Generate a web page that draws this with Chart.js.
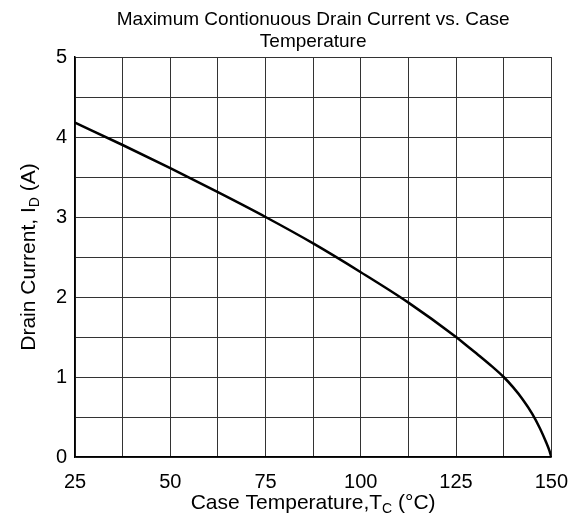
<!DOCTYPE html>
<html>
<head>
<meta charset="utf-8">
<script src="https://cdn.jsdelivr.net/npm/chart.js@4"></script>
<style>
  html, body { margin: 0; padding: 0; background: #fff; }
  #wrap { width: 581px; height: 518px; }
</style>
</head>
<body>
<div id="wrap"><canvas id="grafico"></canvas></div>
<script>
// temperatura do encapsulamento (°C) e corrente de dreno (A)
const temperatura = [25, 37.5, 50, 62.5, 75, 87.5, 100, 112.5, 125, 128, 131.25, 134.5, 137.5, 140, 142.5, 145, 147, 148.5, 149.5, 150];
const corrente = [4.18, 3.90, 3.61, 3.31, 3.00, 2.67, 2.31, 1.93, 1.50, 1.385, 1.26, 1.13, 1.00, 0.87, 0.72, 0.54, 0.36, 0.20, 0.08, 0];

const xTicks = [25, 50, 75, 100, 125, 150];
const yTicks = [0, 1, 2, 3, 4, 5];

const tituloLinhas = ['Maximum Contionuous Drain Current vs. Case', 'Temperature'];
const tituloX = [['Case Temperature,T', false], ['C', true], [' (°C)', false]];
const tituloY = [['Drain Current, I', false], ['D', true], [' (A)', false]];

const fonte = '"Liberation Sans", Arial, sans-serif';
const tamFonte = 19;
const tamEixo = 21;

// desenha texto com trechos em subscrito, centralizado em (0,0)
function textoComSub(ctx, partes, tam) {
  const fNormal = tam + 'px ' + fonte;
  const fSub = Math.round(tam * 0.68) + 'px ' + fonte;
  let total = 0;
  partes.forEach(p => {
    ctx.font = p[1] ? fSub : fNormal;
    total += ctx.measureText(p[0]).width;
  });
  let x = -total / 2;
  ctx.textAlign = 'left';
  ctx.textBaseline = 'alphabetic';
  partes.forEach(p => {
    ctx.font = p[1] ? fSub : fNormal;
    ctx.fillText(p[0], x, p[1] ? 4 : 0);
    x += ctx.measureText(p[0]).width;
  });
}

const textos = {
  id: 'textos',
  afterDraw(chart) {
    const { ctx, chartArea } = chart;
    const cx = (chartArea.left + chartArea.right) / 2;
    ctx.save();
    ctx.fillStyle = '#000';
    // título em duas linhas
    ctx.font = tamFonte + 'px ' + fonte;
    ctx.textAlign = 'center';
    ctx.textBaseline = 'alphabetic';
    ctx.fillText(tituloLinhas[0], cx, 25);
    ctx.fillText(tituloLinhas[1], cx, 47);
    // título do eixo x
    ctx.save();
    ctx.translate(cx, 509);
    textoComSub(ctx, tituloX, tamEixo);
    ctx.restore();
    // título do eixo y
    ctx.save();
    ctx.translate(35, (chartArea.top + chartArea.bottom) / 2);
    ctx.rotate(-Math.PI / 2);
    textoComSub(ctx, tituloY, tamEixo);
    ctx.restore();
    ctx.restore();
  }
};

new Chart(document.getElementById('grafico'), {
  type: 'line',
  data: {
    datasets: [{
      data: temperatura.map((t, i) => ({ x: t, y: corrente[i] })),
      borderColor: '#000',
      borderWidth: 2.5,
      pointRadius: 0,
      fill: false,
      cubicInterpolationMode: 'monotone'
    }]
  },
  options: {
    responsive: true,
    maintainAspectRatio: false,
    animation: false,
    layout: { padding: { top: 57, right: 27, left: 0, bottom: 0 } },
    plugins: {
      legend: { display: false },
      tooltip: { enabled: false },
      title: { display: false }
    },
    scales: {
      x: {
        type: 'linear',
        min: 25,
        max: 150,
        afterFit: s => { s.height = 61; },
        afterBuildTicks: s => {
          s.ticks = [];
          for (let v = 25; v <= 150; v += 12.5) s.ticks.push({ value: v });
        },
        ticks: {
          color: '#000',
          font: { family: fonte, size: 20 },
          padding: 13,
          maxRotation: 0,
          autoSkip: false,
          callback: v => xTicks.includes(v) ? String(v) : ''
        },
        grid: { color: '#333', lineWidth: 1, drawTicks: false },
        border: { color: '#000', width: 1.5 }
      },
      y: {
        type: 'linear',
        min: 0,
        max: 5,
        afterFit: s => { s.width = 75; },
        afterBuildTicks: s => {
          s.ticks = [];
          for (let v = 0; v <= 5; v += 0.5) s.ticks.push({ value: v });
        },
        ticks: {
          color: '#000',
          font: { family: fonte, size: 20 },
          padding: 8,
          autoSkip: false,
          callback: v => yTicks.includes(v) ? String(v) : ''
        },
        grid: { color: '#333', lineWidth: 1, drawTicks: false },
        border: { color: '#000', width: 1.5 }
      }
    }
  },
  plugins: [textos]
});
</script>
</body>
</html>
